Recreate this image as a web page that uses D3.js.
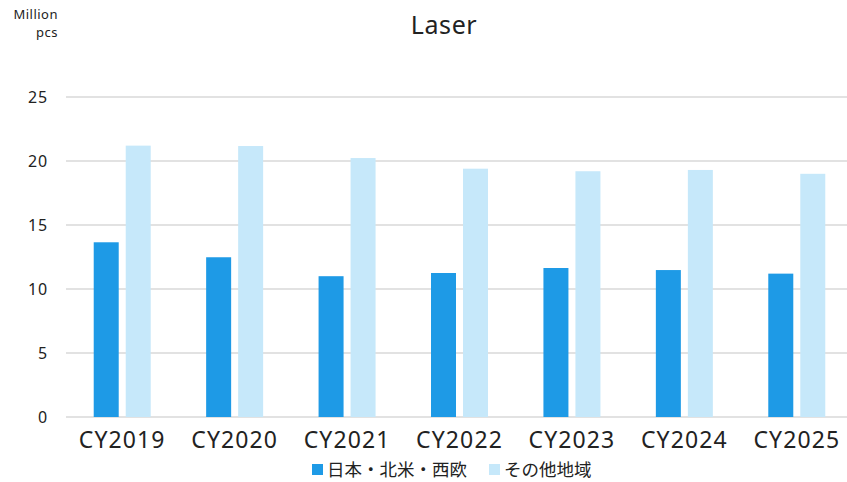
<!DOCTYPE html>
<html>
<head>
<meta charset="utf-8">
<script src="https://cdn.jsdelivr.net/npm/d3@7"></script>
<style>
  html, body { margin: 0; padding: 0; background: #fff; }
  svg { display: block; font-family: "Noto Sans", "Noto Sans CJK JP", sans-serif; }
</style>
</head>
<body>
<svg id="chart" width="847" height="482"></svg>
<script>
const categories = ["CY2019", "CY2020", "CY2021", "CY2022", "CY2023", "CY2024", "CY2025"];
const seriesNames = ["日本・北米・西欧", "その他地域"];
const japanNaEu = [13.65, 12.48, 11.0, 11.25, 11.64, 11.48, 11.2];
const otherRegions = [21.2, 21.17, 20.23, 19.4, 19.2, 19.3, 19.0];
const yTicks = [0, 5, 10, 15, 20, 25];
const unitLines = ["Million", "pcs"];
const colors = ["#1E9AE6", "#C6E8FA"];

const svg = d3.select("#chart");
const W = 847, H = 482;
const m = { left: 66, right: 853, top: 97, bottom: 417 };
const latin = "'Noto Sans', sans-serif";

const x = d3.scaleBand().domain(categories).range([m.left, m.right]);
const y = d3.scaleLinear().domain([0, 25]).range([m.bottom, m.top]);

// gridlines
svg.append("g").selectAll("line").data(yTicks).join("line")
  .attr("x1", m.left).attr("x2", W)
  .attr("y1", d => y(d)).attr("y2", d => y(d))
  .attr("stroke", "#d9d9d9").attr("stroke-width", 1.3);

// y axis labels
const yAxis = d3.axisLeft(y).tickValues(yTicks).tickSize(0).tickPadding(0);
svg.append("g").attr("transform", `translate(48,0)`).call(yAxis)
  .call(g => g.select(".domain").remove())
  .selectAll("text").attr("font-size", 16).attr("fill", "#222")
  .attr("font-family", latin).attr("letter-spacing", 0.8);

// x axis labels
const xAxis = d3.axisBottom(x).tickSize(0).tickPadding(0);
svg.append("g").attr("transform", `translate(0,${m.bottom})`).call(xAxis)
  .call(g => g.select(".domain").remove())
  .selectAll("text").attr("font-size", 23).attr("fill", "#222")
  .attr("font-family", latin).attr("letter-spacing", 1.1)
  .attr("y", 31).attr("dy", null);

// bars
const barW = 25, gap = 7;
const series = [japanNaEu, otherRegions];
series.forEach((vals, si) => {
  svg.append("g").selectAll("rect").data(vals).join("rect")
    .attr("x", (d, i) => x(categories[i]) + x.bandwidth() / 2 + (si === 0 ? -gap / 2 - barW : gap / 2))
    .attr("y", d => y(d))
    .attr("width", barW)
    .attr("height", d => y(0) - y(d))
    .attr("fill", colors[si]);
});

// title
svg.append("text").attr("x", 444).attr("y", 34).attr("text-anchor", "middle")
  .attr("font-size", 25).attr("fill", "#222").attr("font-family", latin)
  .attr("letter-spacing", 0.6).text("Laser");

// unit label, two lines right-aligned above the value axis
svg.append("g").selectAll("text").data(unitLines).join("text")
  .attr("x", 58).attr("y", (d, i) => 19 + i * 18)
  .attr("text-anchor", "end").attr("font-size", 13).attr("letter-spacing", 0.5)
  .attr("fill", "#222").attr("font-family", latin).text(d => d);

// legend
const legendItems = [{ x: 312, name: seriesNames[0], c: colors[0] }, { x: 489, name: seriesNames[1], c: colors[1] }];
const lg = svg.append("g").selectAll("g").data(legendItems).join("g")
  .attr("transform", d => `translate(${d.x},470)`);
lg.append("rect").attr("x", 0).attr("y", -6).attr("width", 11).attr("height", 11).attr("fill", d => d.c);
lg.append("text").attr("x", 15).attr("y", 0).attr("dy", "0.35em")
  .attr("font-size", 17.5).attr("fill", "#222")
  .attr("font-family", "'Noto Sans CJK JP', sans-serif").text(d => d.name);
</script>
</body>
</html>
